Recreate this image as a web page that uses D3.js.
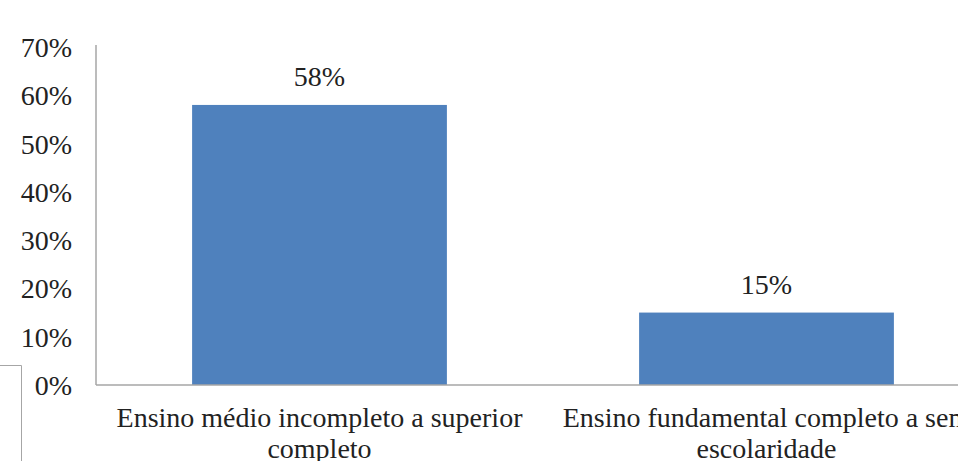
<!DOCTYPE html>
<html><head><meta charset="utf-8">
<script src="https://cdn.jsdelivr.net/npm/d3@7/dist/d3.min.js"></script>
<style>body{margin:0;background:#fff;}svg{display:block;}
svg text{font-family:"Liberation Serif","Times New Roman",Times,"DejaVu Serif",serif;}</style>
</head><body>
<svg id="c" width="958" height="461"></svg>
<script>
const categories = [["Ensino médio incompleto a superior", "completo"], ["Ensino fundamental completo a sem", "escolaridade"]];
const values = [58, 15];
const valueLabels = ["58%", "15%"];
const yTicks = [0, 10, 20, 30, 40, 50, 60, 70];

const svg = d3.select("#c");
const fs = 28;
const x0 = 96, x1 = 990, yTop = 47, yBot = 385;

const x = d3.scaleBand().domain(d3.range(categories.length)).range([x0, x1]).paddingInner(0.43).paddingOuter(0.215);
const y = d3.scaleLinear().domain([0, 70]).range([yBot, yTop]);

// left partial box
svg.append("path").attr("d", "M0,365.5H21.5V461").attr("fill", "none").attr("stroke", "#a6a6a6").attr("stroke-width", 1);

// y axis
const yAxis = d3.axisLeft(y).tickValues(yTicks).tickSize(0).tickPadding(24).tickFormat(d => d + "%");
const gy = svg.append("g").attr("transform", `translate(${x0},0)`).call(yAxis);
gy.attr("font-family", null).attr("font-size", null);
gy.select(".domain").attr("stroke", "#a6a6a6").attr("stroke-width", 1.5).attr("d", `M0,${yTop - 2}V${yBot}`);
gy.selectAll("text").attr("font-size", fs).attr("fill", "#222").attr("dy", "0.34em");

// bars
svg.selectAll("rect.bar").data(values).join("rect").attr("class", "bar")
  .attr("x", (d, i) => x(i)).attr("width", x.bandwidth())
  .attr("y", d => y(d)).attr("height", d => yBot - y(d))
  .attr("fill", "#4f81bd");

// x axis line
svg.append("line").attr("x1", x0).attr("x2", 958).attr("y1", yBot).attr("y2", yBot)
  .attr("stroke", "#a6a6a6").attr("stroke-width", 1.5);

// value labels
svg.selectAll("text.val").data(values).join("text").attr("class", "val")
  .attr("x", (d, i) => x(i) + x.bandwidth() / 2).attr("y", d => y(d) - 19)
  .attr("text-anchor", "middle").attr("font-size", fs).attr("fill", "#222")
  .text((d, i) => valueLabels[i]);

// category labels
categories.forEach((lines, i) => {
  const t = svg.append("text").attr("text-anchor", "middle").attr("font-size", fs).attr("fill", "#222");
  lines.forEach((ln, j) => {
    t.append("tspan").attr("x", x(i) + x.bandwidth() / 2).attr("y", 427 + j * 31).text(ln);
  });
});
</script>
</body></html>
